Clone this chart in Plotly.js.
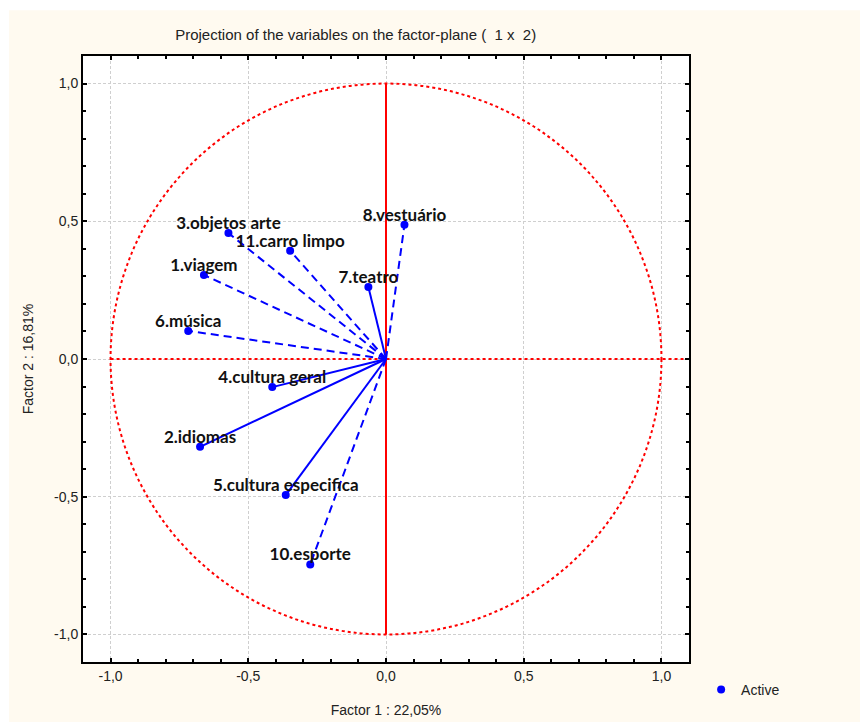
<!DOCTYPE html>
<html>
<head>
<meta charset="utf-8">
<script src="https://cdn.plot.ly/plotly-3.0.1.min.js"></script>
<style>html,body{margin:0;padding:0;background:#fff;}#chart{width:860px;height:722px;}</style>
</head>
<body>
<div id="chart"></div>
<script>
var labels = ['1.viagem','2.idiomas','3.objetos arte','4.cultura geral','5.cultura especifica','6.música','7.teatro','8.vestuário','10.esporte','11.carro limpo'];
var factor1 = [-0.661,-0.675,-0.572,-0.413,-0.364,-0.718,-0.064,0.067,-0.275,-0.348];
var factor2 = [0.305,-0.319,0.457,-0.102,-0.494,0.102,0.261,0.487,-0.746,0.393];
var lineDash = ['dash','solid','dash','solid','solid','dash','solid','dash','dash','dash'];
var tickVals = [-1,-0.5,0,0.5,1];
var tickText = ['-1,0','-0,5','0,0','0,5','1,0'];

var traces = [];
for (var i = 0; i < labels.length; i++) {
  traces.push({
    type:'scatter', mode:'lines', x:[0, factor1[i]], y:[0, factor2[i]],
    line:{color:'#0000ff', width:2, dash: lineDash[i]==='dash' ? '8px,5px' : 'solid'},
    showlegend:false, hoverinfo:'skip'
  });
}
traces.push({
  type:'scatter', mode:'markers', name:'Active',
  x:factor1, y:factor2,
  marker:{color:'#0000ff', size:8}, cliponaxis:false
});
traces.push({
  type:'scatter', mode:'text', showlegend:false, hoverinfo:'skip',
  x:factor1, y:factor2, text:labels, textposition:'top center',
  textfont:{family:'Lato, "Open Sans", sans-serif', size:17, color:'#111', weight:'bold'},
  cliponaxis:false
});

var axisCommon = {
  range:[-1.1,1.1], tickmode:'array', tickvals:tickVals, ticktext:tickText,
  ticks:'inside', ticklen:4, tickwidth:2, tickcolor:'#000',
  showline:true, linecolor:'#000', linewidth:2, mirror:'ticks',
  showgrid:true, gridcolor:'#cfcfcf', griddash:'3px,2px', gridwidth:1,
  zeroline:false,
  minor:{tick0:0, dtick:0.1, ticks:'inside', ticklen:3, tickwidth:2, tickcolor:'#000', showgrid:false},
  tickfont:{family:'"Liberation Sans", Arial, sans-serif', size:14, color:'#222'}
};

var layout = {
  width:860, height:722,
  margin:{l:83, r:171, t:56, b:60},
  paper_bgcolor:'#fffaf0', plot_bgcolor:'#ffffff',
  font:{family:'"Liberation Sans", Arial, sans-serif', color:'#222'},
  title:{text:'Projection of the variables on the factor-plane (  1 x  2)', x:0.45, xref:'paper', xanchor:'center', y:0.952, yanchor:'middle',
    font:{family:'"Liberation Sans", Arial, sans-serif', size:15, color:'#222'}},
  xaxis:Object.assign({}, axisCommon, {title:{text:'Factor 1 : 22,05%', font:{size:14, color:'#222'}, standoff:22}}),
  yaxis:Object.assign({}, axisCommon, {title:{text:'Factor 2 : 16,81%', font:{size:14, color:'#222'}, standoff:17}}),
  showlegend:true,
  legend:{x:1.02, y:-0.046, xanchor:'left', yanchor:'middle', bgcolor:'rgba(0,0,0,0)', font:{size:14, color:'#222'}},
  shapes:[
    {type:'circle', xref:'x', yref:'y', x0:-1, x1:1, y0:-1, y1:1, line:{color:'#ff0000', width:2, dash:'dot'}, layer:'between'},
    {type:'line', xref:'x', yref:'y', x0:-1, x1:1.08, y0:0, y1:0, line:{color:'#ff0000', width:2, dash:'3px,3px'}, layer:'between'},
    {type:'line', xref:'x', yref:'y', x0:0, x1:0, y0:-1, y1:1, line:{color:'#ff0000', width:2}, layer:'between'},
    {type:'rect', xref:'paper', yref:'paper', x0:-0.14, x1:-0.1221, y0:-0.2, y1:1.1, fillcolor:'#ffffff', line:{width:0}},
    {type:'rect', xref:'paper', yref:'paper', x0:-0.2, x1:1.4, y0:1.0754, y1:1.1, fillcolor:'#ffffff', line:{width:0}}
  ]
};

Plotly.newPlot('chart', traces, layout, {displayModeBar:false});
</script>
</body>
</html>
